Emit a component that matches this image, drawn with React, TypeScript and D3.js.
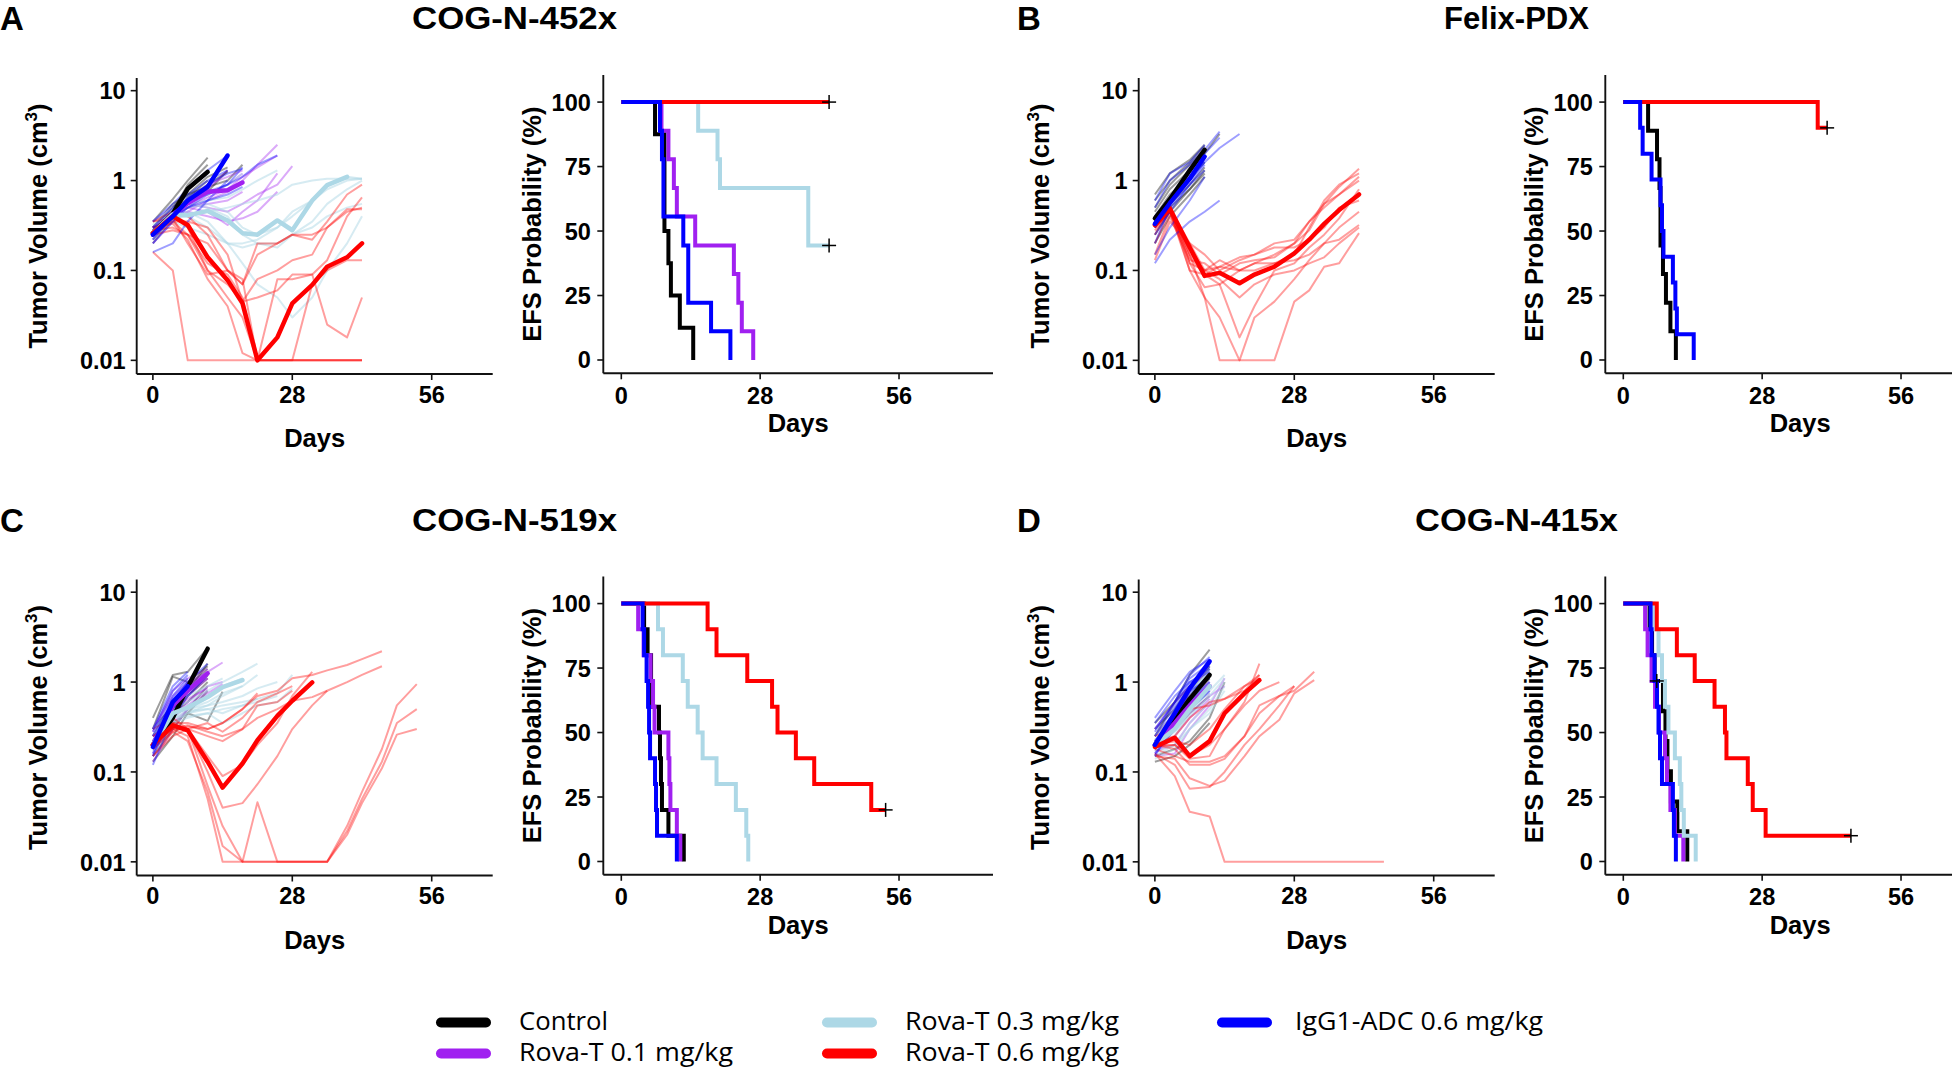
import React from 'react';
import * as d3 from 'd3';

// ---------- shared ----------
const GROUP_NAMES = ['Control', 'Rova-T 0.1 mg/kg', 'Rova-T 0.3 mg/kg', 'Rova-T 0.6 mg/kg', 'IgG1-ADC 0.6 mg/kg'];
const GROUP_COLORS = ['#000000', '#A020F0', '#ADD8E6', '#FF0000', '#0000FF'];
const X_TICKS = [0, 28, 56];
const VOL_TICKS = [0.01, 0.1, 1, 10];
const EFS_TICKS = [0, 25, 50, 75, 100];

// ---------- Panel A : COG-N-452x ----------
const A_DAYS = [0, 4, 7, 11, 15, 18, 21, 25, 28, 32, 35, 39, 42];
const A_CONTROL = [
  [0.35, 0.62, 1.0, 1.8], [0.3, 0.5, 0.82, 1.3], [0.25, 0.46, 0.9, 1.5], [0.28, 0.5, 0.7, 1.1, 1.4],
  [0.22, 0.4, 0.6, 0.9, 1.25], [0.3, 0.55, 0.7, 0.85, 1.0, 1.5], [0.2, 0.38, 0.55, 0.75, 1.3], [0.25, 0.42, 0.65, 1.0],
];
const A_ROVA01 = [
  [0.3, 0.45, 0.6, 0.9, 1.1, 1.3], [0.25, 0.35, 0.45, 0.6, 0.75, 1.0, 1.5, 2.5], [0.22, 0.4, 0.5, 0.65, 0.8, 1.1, 1.4, 1.9],
  [0.3, 0.45, 0.5, 0.45, 0.32, 0.45, 0.6, 1.2], [0.25, 0.42, 0.45, 0.4, 0.35, 0.38, 0.45, 0.75],
  [0.35, 0.5, 0.55, 0.5, 0.45, 0.55, 0.7, 0.9, 1.45], [0.2, 0.35, 0.55, 0.8, 1.3], [0.28, 0.45, 0.6, 0.7, 0.9, 1.2],
  [0.3, 0.4, 0.5, 0.55, 0.6, 0.75],
];
const A_ROVA03 = [
  [0.3, 0.45, 0.5, 0.55, 0.45, 0.3, 0.25, 0.3, 0.4, 0.6, 0.9, 1.1, 1.05],
  [0.35, 0.5, 0.55, 0.5, 0.4, 0.25, 0.2, 0.2, 0.25, 0.35, 0.55, 0.8, 1.0],
  [0.25, 0.4, 0.45, 0.35, 0.2, 0.18, 0.2, 0.18, 0.25, 0.3, 0.4, 0.5, 0.55],
  [0.28, 0.42, 0.4, 0.3, 0.2, 0.12, 0.07, 0.05, 0.03, 0.05, 0.1, 0.2, 0.4],
  [0.3, 0.45, 0.6, 0.7, 0.9, 1.2],
  [0.32, 0.48, 0.55, 0.6, 0.65, 0.8, 1.0, 1.3],
  [0.22, 0.38, 0.4, 0.45, 0.5, 0.55, 0.6, 0.7, 0.9, 1.0, 1.05, 1.05, 1.05],
  [0.25, 0.35, 0.3, 0.25, 0.2, 0.2, 0.22, 0.3, 0.45, 0.6, 0.8, 1.0, 1.05],
];
const A_ROVA06 = [
  [0.16, 0.1, 0.01, 0.01, 0.01, 0.01, 0.01, 0.01, 0.01, 0.01, 0.01, 0.01, 0.01],
  [0.3, 0.4, 0.3, 0.1, 0.05, 0.03, 0.01, 0.01, 0.01, 0.01, 0.01, 0.01, 0.01],
  [0.25, 0.35, 0.25, 0.12, 0.09, 0.05, 0.01, 0.01, 0.01, 0.01, 0.01, 0.01, 0.01],
  [0.35, 0.45, 0.4, 0.25, 0.1, 0.07, 0.2, 0.2, 0.25, 0.22, 0.35, 0.7, 0.9],
  [0.3, 0.35, 0.35, 0.3, 0.15, 0.045, 0.05, 0.06, 0.09, 0.09, 0.13, 0.4, 0.65],
  [0.28, 0.3, 0.25, 0.1, 0.07, 0.045, 0.08, 0.1, 0.13, 0.15, 0.3, 0.48, 0.48],
  [0.35, 0.38, 0.2, 0.09, 0.1, 0.08, 0.01, 0.08, 0.08, 0.09, 0.025, 0.018, 0.05],
  [0.3, 0.33, 0.22, 0.08, 0.04, 0.012, 0.01, 0.01, 0.01, 0.07, 0.1, 0.13, 0.13],
  [0.25, 0.28, 0.25, 0.2, 0.1, 0.07, 0.15, 0.2, 0.25, 0.25, 0.3, 0.45, 0.5],
];
const A_IGG1 = [
  [0.25, 0.45, 0.8, 1.3, 1.9], [0.3, 0.5, 0.7, 1.0, 1.3], [0.2, 0.35, 0.5, 0.7, 0.9, 1.4],
  [0.28, 0.45, 0.6, 0.75, 0.9, 1.1, 1.5, 1.9], [0.16, 0.2, 0.35, 0.6, 1.0], [0.35, 0.55, 0.8, 1.2],
  [0.3, 0.4, 0.5, 0.6, 0.7, 0.85], [0.22, 0.4, 0.65, 0.9, 1.2, 1.35],
];
const A_MEAN_CONTROL = [0.26, 0.43, 0.81, 1.25];
const A_MEAN_ROVA01 = [0.25, 0.42, 0.56, 0.75, 0.78, 0.95];
const A_MEAN_ROVA03 = [0.26, 0.42, 0.41, 0.46, 0.36, 0.26, 0.25, 0.36, 0.28, 0.6, 0.89, 1.1];
const A_MEAN_ROVA06 = [0.26, 0.4, 0.32, 0.14, 0.078, 0.043, 0.01, 0.018, 0.043, 0.069, 0.11, 0.14, 0.2];
const A_MEAN_IGG1 = [0.25, 0.4, 0.6, 0.85, 1.9];
const A_EFS_TIMES = [
  [0, 6.8, 8.7, 9.5, 10.0, 11.8, 14.5],
  [0, 8.1, 9.5, 10.6, 11.2, 14.9, 22.7, 23.6, 24.3, 26.6],
  [0, 15.5, 19.4, 19.9, 37.7, 41.9],
  [0, 41.9],
  [0, 7.8, 8.2, 8.5, 12.5, 13.5, 18.1, 22.0],
];
const A_EFS_SURV = [
  [100, 87.5, 50, 37.5, 25, 12.5, 0],
  [100, 88.9, 77.8, 66.7, 55.6, 44.4, 33.3, 22.2, 11.1, 0],
  [100, 88.9, 77.8, 66.7, 44.4, 44.4],
  [100, 100],
  [100, 88.9, 77.8, 55.6, 44.4, 22.2, 11.1, 0],
];
const A_CENSOR = [[41.9, 100], [41.9, 44.4]];

// ---------- Panel B : Felix-PDX ----------
const B_DAYS = [0, 3, 7, 10, 13, 17, 20, 24, 28, 31, 34, 37, 41];
const B_CONTROL = [
  [0.6, 1.0, 1.6, 2.4], [0.45, 0.8, 1.3, 2.0, 3.3], [0.3, 0.55, 0.9, 1.4], [0.25, 0.45, 0.8, 1.2],
  [0.5, 0.9, 1.5, 2.2], [0.35, 0.5, 0.8, 1.3], [0.7, 1.2, 1.7, 2.5], [0.2, 0.4, 0.7, 1.1], [0.4, 0.7, 1.1, 1.6],
];
const B_ROVA06 = [
  [0.3, 0.45, 0.15, 0.1, 0.13, 0.1, 0.12, 0.15, 0.2, 0.35, 0.55, 0.85, 1.35],
  [0.25, 0.5, 0.2, 0.1, 0.11, 0.14, 0.15, 0.2, 0.22, 0.35, 0.5, 0.7, 1.1],
  [0.4, 0.5, 0.15, 0.05, 0.01, 0.01, 0.01, 0.01, 0.045, 0.06, 0.11, 0.12, 0.26],
  [0.3, 0.45, 0.1, 0.05, 0.03, 0.01, 0.03, 0.045, 0.08, 0.13, 0.2, 0.3, 0.45],
  [0.2, 0.45, 0.12, 0.065, 0.07, 0.018, 0.04, 0.1, 0.12, 0.18, 0.25, 0.38, 0.8],
  [0.15, 0.4, 0.13, 0.12, 0.09, 0.12, 0.13, 0.14, 0.2, 0.28, 0.55, 0.7, 1.0],
  [0.13, 0.35, 0.2, 0.15, 0.1, 0.13, 0.15, 0.18, 0.18, 0.22, 0.3, 0.5, 0.6],
  [0.28, 0.45, 0.14, 0.09, 0.11, 0.1, 0.1, 0.12, 0.13, 0.15, 0.2, 0.22, 0.32],
  [0.35, 0.55, 0.12, 0.1, 0.08, 0.05, 0.07, 0.09, 0.1, 0.12, 0.14, 0.2, 0.3],
  [0.3, 0.5, 0.1, 0.09, 0.07, 0.1, 0.12, 0.12, 0.15, 0.3, 0.6, 0.9, 1.2],
];
const B_IGG1 = [
  [0.12, 0.22, 0.35, 0.45, 0.6], [0.3, 0.6, 1.0, 1.6, 2.3, 3.3], [0.5, 1.0, 1.5, 2.2, 3.5], [0.35, 0.6, 1.1, 1.8],
  [0.25, 0.45, 0.9, 1.5], [0.6, 1.2, 1.6, 2.5], [0.4, 0.65, 1.2, 2.0, 3.0], [0.2, 0.5, 0.9, 1.3],
  [0.15, 0.3, 0.6, 1.1], [0.3, 0.55, 1.0, 1.6],
];
const B_MEAN_CONTROL = [0.38, 0.62, 1.3, 2.2];
const B_MEAN_ROVA06 = [0.32, 0.49, 0.18, 0.087, 0.094, 0.072, 0.09, 0.11, 0.155, 0.22, 0.33, 0.47, 0.7];
const B_MEAN_IGG1 = [0.33, 0.56, 1.05, 1.85];
const B_EFS_TIMES = [
  [0, 5.0, 6.8, 7.3, 7.5, 8.0, 8.6, 9.5, 10.6],
  [],
  [],
  [0, 39.2, 41.1],
  [0, 3.4, 3.9, 5.7, 7.5, 7.8, 8.1, 10.0, 10.5, 10.8, 14.2],
];
const B_EFS_SURV = [
  [100, 88.9, 77.8, 66.7, 44.4, 33.3, 22.2, 11.1, 0],
  [],
  [],
  [100, 90, 90],
  [100, 90, 80, 70, 60, 50, 40, 30, 20, 10, 0],
];
const B_CENSOR = [[41.1, 90]];

// ---------- Panel C : COG-N-519x ----------
const C_DAYS = [0, 4, 7, 11, 14, 18, 21, 25, 28, 32, 35, 39, 42, 46, 49, 53];
const C_CONTROL = [
  [0.4, 1.2, 1.3, 2.4], [0.3, 1.15, 1.0, 1.5], [0.25, 0.5, 0.8, 1.6], [0.2, 0.45, 0.6, 1.0], [0.15, 0.3, 0.5, 0.9],
  [0.18, 0.35, 0.45, 0.37, 0.78], [0.25, 0.6, 0.9, 1.4], [0.3, 0.55, 0.7, 1.2], [0.22, 0.4, 0.7, 1.1], [0.13, 0.25, 0.45, 0.8],
];
const C_ROVA01 = [
  [0.3, 0.7, 1.0, 1.3, 1.65], [0.2, 0.5, 0.7, 1.1], [0.15, 0.4, 0.6, 0.9, 1.0], [0.25, 0.6, 0.9, 1.3],
  [0.18, 0.35, 0.5, 0.75, 0.95], [0.22, 0.5, 0.8, 1.1], [0.13, 0.3, 0.5, 0.7], [0.28, 0.8, 1.1, 1.4],
  [0.2, 0.45, 0.65, 0.85], [0.16, 0.4, 0.55, 0.8],
];
const C_ROVA03 = [
  [0.25, 0.5, 0.6, 0.8, 1.0, 1.3, 1.6], [0.2, 0.4, 0.45, 0.5, 0.55, 0.6, 0.65, 0.75, 1.2],
  [0.15, 0.35, 0.4, 0.45, 0.5, 0.55, 0.6, 0.7], [0.3, 0.5, 0.5, 0.6, 0.75, 0.9, 1.2],
  [0.18, 0.4, 0.55, 0.7, 0.9, 1.1], [0.22, 0.45, 0.5, 0.55, 0.6, 0.7, 0.85, 1.0],
  [0.2, 0.4, 0.42, 0.45, 0.35, 0.45, 0.55, 0.6, 0.85], [0.25, 0.55, 0.7, 0.9, 1.1],
  [0.17, 0.35, 0.45, 0.55, 0.7, 0.9], [0.2, 0.4, 0.48, 0.5, 0.45, 0.55, 0.65],
];
const C_ROVA06 = [
  [0.25, 0.35, 0.35, 0.3, 0.35, 0.5, 0.7, 0.8, 1.1, 1.2, 1.35, 1.55, 1.8, 2.2],
  [0.2, 0.3, 0.33, 0.28, 0.25, 0.3, 0.4, 0.5, 0.62, 0.68, 0.8, 1.0, 1.2, 1.5],
  [0.18, 0.3, 0.25, 0.05, 0.01, 0.01, 0.046, 0.01, 0.01, 0.01, 0.01, 0.025, 0.06, 0.18, 0.55, 0.95],
  [0.15, 0.28, 0.22, 0.06, 0.015, 0.01, 0.01, 0.01, 0.01, 0.01, 0.01, 0.022, 0.05, 0.13, 0.35, 0.5],
  [0.22, 0.3, 0.3, 0.07, 0.025, 0.01, 0.01, 0.01, 0.01, 0.01, 0.01, 0.02, 0.045, 0.11, 0.26, 0.3],
  [0.2, 0.32, 0.3, 0.1, 0.04, 0.045, 0.073, 0.15, 0.3, 0.55, 0.8],
  [0.25, 0.35, 0.3, 0.25, 0.22, 0.3, 0.55, 0.6, 0.8],
  [0.3, 0.4, 0.3, 0.15, 0.09, 0.12, 0.2, 0.35, 0.7, 1.3],
  [0.18, 0.28, 0.32, 0.3, 0.35, 0.5, 0.75],
  [0.15, 0.25, 0.3, 0.35, 0.28, 0.4, 0.6, 0.75, 0.9],
];
const C_IGG1 = [
  [0.3, 0.9, 1.3], [0.2, 0.6, 1.0, 1.6], [0.15, 0.45, 0.75], [0.25, 0.7, 1.1], [0.18, 0.5, 0.9],
  [0.12, 0.4, 0.7, 1.2], [0.22, 0.65, 1.0], [0.2, 0.55, 0.8], [0.16, 0.5, 0.85], [0.28, 0.8, 1.2],
];
const C_MEAN_CONTROL = [0.2, 0.4, 0.88, 2.35];
const C_MEAN_ROVA01 = [0.2, 0.55, 0.8, 1.25];
const C_MEAN_ROVA03 = [0.2, 0.45, 0.52, 0.68, 0.88, 1.05];
const C_MEAN_ROVA06 = [0.2, 0.33, 0.29, 0.13, 0.067, 0.124, 0.225, 0.42, 0.62, 0.99];
const C_MEAN_IGG1 = [0.19, 0.6, 0.9];
const C_EFS_TIMES = [
  [0, 4.6, 5.3, 6.0, 6.2, 7.6, 7.8, 8.0, 8.2, 9.5, 12.6],
  [0, 3.4, 4.5, 5.9, 6.4, 6.7, 9.5, 9.7, 9.9, 11.2, 11.9],
  [0, 7.4, 8.4, 12.4, 13.4, 15.4, 16.4, 19.2, 23.1, 25.2, 25.6],
  [0, 17.4, 19.2, 25.4, 30.4, 31.5, 35.2, 38.9, 50.4, 53.3],
  [0, 4.3, 4.6, 5.1, 5.4, 5.6, 5.8, 6.8, 7.0, 7.2, 11.2],
];
const C_EFS_SURV = [
  [100, 90, 80, 70, 60, 50, 40, 30, 20, 10, 0],
  [100, 90, 80, 70, 60, 50, 40, 30, 20, 10, 0],
  [100, 90, 80, 70, 60, 50, 40, 30, 20, 10, 0],
  [100, 90, 80, 70, 60, 50, 40, 30, 20, 20],
  [100, 90, 80, 70, 60, 50, 40, 30, 20, 10, 0],
];
const C_CENSOR = [[53.3, 20]];

// ---------- Panel D : COG-N-415x ----------
const D_DAYS = [0, 4, 7, 11, 14, 18, 21, 25, 28, 32, 35, 39, 42, 46];
const D_CONTROL = [
  [0.25, 0.6, 1.2, 2.3], [0.2, 0.35, 0.6, 1.1], [0.15, 0.18, 0.22, 0.4, 1.0], [0.3, 0.5, 0.9, 1.5],
  [0.18, 0.3, 0.5, 0.9], [0.22, 0.4, 0.8, 1.4], [0.13, 0.15, 0.2, 0.35], [0.25, 0.45, 0.7, 1.2],
  [0.2, 0.3, 0.45, 0.7], [0.35, 0.6, 0.9, 1.6],
];
const D_ROVA01 = [
  [0.18, 0.3, 0.5, 0.9], [0.15, 0.16, 0.3, 0.55, 1.1], [0.25, 0.45, 0.7, 1.0], [0.2, 0.35, 0.5, 0.8],
  [0.17, 0.2, 0.35, 0.6], [0.3, 0.6, 0.9, 1.3], [0.22, 0.4, 0.55, 0.75], [0.19, 0.3, 0.45, 0.7, 0.9],
  [0.16, 0.25, 0.4, 0.65], [0.21, 0.38, 0.6, 1.0],
];
const D_ROVA03 = [
  [0.2, 0.35, 0.7, 1.4], [0.15, 0.2, 0.35, 0.6, 1.0], [0.18, 0.25, 0.45, 0.8, 1.2], [0.22, 0.4, 0.6, 1.0],
  [0.17, 0.2, 0.3, 0.5, 0.9], [0.25, 0.45, 0.8, 1.3], [0.14, 0.18, 0.3, 0.45, 0.8], [0.2, 0.3, 0.5, 0.75],
  [0.19, 0.28, 0.42, 0.7, 1.1], [0.23, 0.35, 0.55, 0.9],
];
const D_ROVA06 = [
  [0.16, 0.09, 0.036, 0.032, 0.01, 0.01, 0.01, 0.01, 0.01, 0.01, 0.01, 0.01, 0.01, 0.01],
  [0.16, 0.12, 0.065, 0.068, 0.1, 0.2, 0.3, 0.55, 0.9],
  [0.15, 0.14, 0.085, 0.07, 0.08, 0.15, 0.25, 0.38, 0.75, 1.05],
  [0.18, 0.15, 0.13, 0.13, 0.15, 0.25, 0.45, 0.7, 0.8, 1.3],
  [0.2, 0.2, 0.14, 0.15, 0.3, 0.6, 1.6],
  [0.22, 0.25, 0.4, 0.6, 0.65, 0.8, 1.2],
  [0.2, 0.18, 0.12, 0.12, 0.14, 0.25, 0.55, 0.7, 0.9],
  [0.25, 0.3, 0.5, 0.55, 0.65, 0.9, 1.1],
  [0.2, 0.22, 0.2, 0.3, 0.5, 0.9, 1.2],
  [0.19, 0.2, 0.15, 0.2, 0.3, 0.55, 0.8, 1.0],
];
const D_IGG1 = [
  [0.4, 0.8, 1.3, 1.8], [0.3, 0.6, 1.1, 1.6], [0.2, 0.5, 0.9, 1.5], [0.15, 0.35, 0.6, 1.0], [0.25, 0.55, 1.0, 1.4],
  [0.18, 0.4, 0.75, 1.2], [0.35, 0.7, 1.0, 1.3], [0.22, 0.45, 0.8, 1.1], [0.16, 0.3, 0.5, 0.8], [0.28, 0.6, 1.2, 1.9],
];
const D_MEAN_CONTROL = [0.2, 0.38, 0.65, 1.2];
const D_MEAN_ROVA01 = [0.2, 0.35, 0.55, 0.9];
const D_MEAN_ROVA03 = [0.2, 0.3, 0.5, 0.9];
const D_MEAN_ROVA06 = [0.19, 0.24, 0.15, 0.22, 0.45, 0.75, 1.05];
const D_MEAN_IGG1 = [0.2, 0.45, 0.85, 1.7];
const D_EFS_TIMES = [
  [0, 5.3, 5.8, 6.3, 8.0, 8.5, 8.9, 9.6, 10.9, 12.9],
  [0, 4.4, 4.9, 5.7, 6.4, 7.2, 8.4, 8.8, 9.5, 10.4, 12.1],
  [0, 6.1, 7.1, 7.8, 8.4, 9.1, 10.4, 11.4, 11.7, 12.2, 14.6],
  [0, 6.75, 10.8, 14.4, 18.4, 20.5, 20.8, 25.1, 26.1, 28.7, 45.9],
  [0, 5.5, 5.7, 6.3, 6.8, 7.1, 7.4, 7.8, 10.0, 10.2, 10.6],
];
const D_EFS_SURV = [
  [100, 90, 80, 70, 58.3, 46.7, 35, 23.3, 11.7, 0],
  [100, 90, 80, 70, 60, 50, 40, 30, 20, 10, 0],
  [100, 90, 80, 70, 60, 50, 40, 30, 20, 10, 0],
  [100, 90, 80, 70, 60, 50, 40, 30, 20, 10, 10],
  [100, 90, 80, 70, 60, 50, 40, 30, 20, 10, 0],
];
const D_CENSOR = [[6.75, 70], [45.9, 10]];

// ---------- layout ----------
const FONT = "'Liberation Sans', Arial, Helvetica, sans-serif";
const LEGEND_FONT = "'Open Sans', 'Liberation Sans', sans-serif";
const VL = 136.7, VR = 492.7, VT = 78, VB = 374;
const EL = 603.3, ER = 993, ET = 75, EB = 373.3;
const DX = 1002, DY = 501.5;

type PanelDef = {
  letter: string; title: string; titleW: number; dx: number; dy: number; days: number[];
  groups: number[][][]; means: number[][]; efsT: number[][]; efsS: number[][]; censor: number[][];
};

const PANELS: PanelDef[] = [
  { letter: 'A', title: 'COG-N-452x', titleW: 205, dx: 0, dy: 0, days: A_DAYS,
    groups: [A_CONTROL, A_ROVA01, A_ROVA03, A_ROVA06, A_IGG1],
    means: [A_MEAN_CONTROL, A_MEAN_ROVA01, A_MEAN_ROVA03, A_MEAN_ROVA06, A_MEAN_IGG1],
    efsT: A_EFS_TIMES, efsS: A_EFS_SURV, censor: A_CENSOR },
  { letter: 'B', title: 'Felix-PDX', titleW: 145, dx: DX, dy: 0, days: B_DAYS,
    groups: [B_CONTROL, [], [], B_ROVA06, B_IGG1],
    means: [B_MEAN_CONTROL, [], [], B_MEAN_ROVA06, B_MEAN_IGG1],
    efsT: B_EFS_TIMES, efsS: B_EFS_SURV, censor: B_CENSOR },
  { letter: 'C', title: 'COG-N-519x', titleW: 205, dx: 0, dy: DY, days: C_DAYS,
    groups: [C_CONTROL, C_ROVA01, C_ROVA03, C_ROVA06, C_IGG1],
    means: [C_MEAN_CONTROL, C_MEAN_ROVA01, C_MEAN_ROVA03, C_MEAN_ROVA06, C_MEAN_IGG1],
    efsT: C_EFS_TIMES, efsS: C_EFS_SURV, censor: C_CENSOR },
  { letter: 'D', title: 'COG-N-415x', titleW: 203, dx: DX, dy: DY, days: D_DAYS,
    groups: [D_CONTROL, D_ROVA01, D_ROVA03, D_ROVA06, D_IGG1],
    means: [D_MEAN_CONTROL, D_MEAN_ROVA01, D_MEAN_ROVA03, D_MEAN_ROVA06, D_MEAN_IGG1],
    efsT: D_EFS_TIMES, efsS: D_EFS_SURV, censor: D_CENSOR },
];

const AXIS_COLOR = '#111';
const TICK_FS = 23.5;
const TITLE_FS = 25.5;

function VolumePlot({ days, groups, means }: { days: number[]; groups: number[][][]; means: number[][] }) {
  const x = d3.scaleLinear().domain([-3.25, 68.25]).range([VL, VR]);
  const y = d3.scaleLog().domain([10 ** -2.152, 10 ** 1.141]).range([VB, VT]);
  const gen = d3.line<number>().x((_, i) => x(days[i])).y((v) => y(v));
  return (
    <g>
      {groups.map((series, gi) =>
        series.map((s, si) => (
          <path key={`ind-${gi}-${si}`} d={gen(s) || ''} fill="none" stroke={GROUP_COLORS[gi]}
            strokeOpacity={gi === 2 ? 0.5 : 0.38} strokeWidth={2} strokeLinejoin="round" />
        ))
      )}
      {means.map((m, gi) =>
        m.length ? (
          <path key={`mean-${gi}`} d={gen(m) || ''} fill="none" stroke={GROUP_COLORS[gi]}
            strokeWidth={4.5} strokeLinejoin="round" strokeLinecap="round" />
        ) : null
      )}
      <line x1={VL} x2={VL} y1={VT} y2={VB} stroke={AXIS_COLOR} strokeWidth={1.9} />
      <line x1={VL} x2={VR} y1={VB} y2={VB} stroke={AXIS_COLOR} strokeWidth={1.9} />
      {VOL_TICKS.map((t) => (
        <g key={`vy-${t}`}>
          <line x1={VL - 6} x2={VL} y1={y(t)} y2={y(t)} stroke={AXIS_COLOR} strokeWidth={1.6} />
          <text x={VL - 11} y={y(t) + 8.8} textAnchor="end" fontFamily={FONT} fontWeight="bold" fontSize={TICK_FS}>{String(t)}</text>
        </g>
      ))}
      {X_TICKS.map((t) => (
        <g key={`vx-${t}`}>
          <line x1={x(t)} x2={x(t)} y1={VB} y2={VB + 6} stroke={AXIS_COLOR} strokeWidth={1.6} />
          <text x={x(t)} y={VB + 28.8} textAnchor="middle" fontFamily={FONT} fontWeight="bold" fontSize={TICK_FS}>{t}</text>
        </g>
      ))}
      <text x={(VL + VR) / 2} y={447} textAnchor="middle" fontFamily={FONT} fontWeight="bold" fontSize={TITLE_FS}>Days</text>
      <text transform={`translate(47,${(VT + VB) / 2}) rotate(-90)`} textAnchor="middle" fontFamily={FONT} fontWeight="bold" fontSize={TITLE_FS}>
        Tumor Volume (cm<tspan dy={-10} fontSize={17}>3</tspan><tspan dy={10}>)</tspan>
      </text>
    </g>
  );
}

function EfsPlot({ times, surv, censor }: { times: number[][]; surv: number[][]; censor: number[][] }) {
  const x = d3.scaleLinear().domain([-3.63, 74.95]).range([EL, ER]);
  const y = d3.scaleLinear().domain([-5.16, 110.5]).range([EB, ET]);
  const gen = d3.line<[number, number]>().x((d) => x(d[0])).y((d) => y(d[1])).curve(d3.curveStepAfter);
  return (
    <g>
      {times.map((ts, gi) =>
        ts.length ? (
          <path key={`km-${gi}`} d={gen(ts.map((t, i) => [t, surv[gi][i]] as [number, number])) || ''}
            fill="none" stroke={GROUP_COLORS[gi]} strokeWidth={4} strokeLinejoin="miter" />
        ) : null
      )}
      {censor.map(([t, s], i) => (
        <g key={`cen-${i}`} stroke="#000" strokeWidth={1.5}>
          <line x1={x(t) - 7} x2={x(t) + 7} y1={y(s)} y2={y(s)} />
          <line x1={x(t)} x2={x(t)} y1={y(s) - 7} y2={y(s) + 7} />
        </g>
      ))}
      <line x1={EL} x2={EL} y1={ET} y2={EB} stroke={AXIS_COLOR} strokeWidth={1.9} />
      <line x1={EL} x2={ER} y1={EB} y2={EB} stroke={AXIS_COLOR} strokeWidth={1.9} />
      {EFS_TICKS.map((t) => (
        <g key={`ey-${t}`}>
          <line x1={EL - 6} x2={EL} y1={y(t)} y2={y(t)} stroke={AXIS_COLOR} strokeWidth={1.6} />
          <text x={EL - 12.5} y={y(t) + 8.5} textAnchor="end" fontFamily={FONT} fontWeight="bold" fontSize={TICK_FS}>{t}</text>
        </g>
      ))}
      {X_TICKS.map((t) => (
        <g key={`ex-${t}`}>
          <line x1={x(t)} x2={x(t)} y1={EB} y2={EB + 6} stroke={AXIS_COLOR} strokeWidth={1.6} />
          <text x={x(t)} y={EB + 30.5} textAnchor="middle" fontFamily={FONT} fontWeight="bold" fontSize={TICK_FS}>{t}</text>
        </g>
      ))}
      <text x={(EL + ER) / 2} y={432} textAnchor="middle" fontFamily={FONT} fontWeight="bold" fontSize={TITLE_FS}>Days</text>
      <text transform={`translate(541,${(ET + EB) / 2}) rotate(-90)`} textAnchor="middle" fontFamily={FONT} fontWeight="bold" fontSize={TITLE_FS}>
        EFS Probability (%)
      </text>
    </g>
  );
}

const LEGEND_COLS = [
  { x: 441, tx: 519, items: [0, 1] },
  { x: 827, tx: 905, items: [2, 3] },
  { x: 1222, tx: 1295, items: [4] },
];
const LEGEND_ROWS_Y = [1022.5, 1053.5];
const LEGEND_TEXT_W = [89, 214, 214, 214, 248];

export default function App() {
  return (
    <svg width={1952} height={1070} style={{ position: 'absolute', left: 0, top: 0, background: '#fff' }}>
      <rect x={0} y={0} width={1952} height={1070} fill="#fff" />
      {PANELS.map((p) => (
        <g key={p.letter} transform={`translate(${p.dx},${p.dy})`}>
          <text x={p.dx === 0 ? 0 : 15} y={30} fontFamily={FONT} fontWeight="bold" fontSize={33}>{p.letter}</text>
          <text x={514.5 - p.titleW / 2} y={29} fontFamily={FONT} fontWeight="bold" fontSize={32}
            textLength={p.titleW} lengthAdjust="spacingAndGlyphs">{p.title}</text>
          <VolumePlot days={p.days} groups={p.groups} means={p.means} />
          <EfsPlot times={p.efsT} surv={p.efsS} censor={p.censor} />
        </g>
      ))}
      {LEGEND_COLS.map((c) =>
        c.items.map((gi, ri) => (
          <g key={`leg-${gi}`}>
            <line x1={c.x} x2={c.x + 45} y1={LEGEND_ROWS_Y[ri]} y2={LEGEND_ROWS_Y[ri]} stroke={GROUP_COLORS[gi]}
              strokeWidth={10} strokeLinecap="round" />
            <text x={c.tx} y={LEGEND_ROWS_Y[ri] + 7.5} fontFamily={LEGEND_FONT} fontSize={25}
              textLength={LEGEND_TEXT_W[gi]} lengthAdjust="spacingAndGlyphs">
              {GROUP_NAMES[gi]}
            </text>
          </g>
        ))
      )}
    </svg>
  );
}
